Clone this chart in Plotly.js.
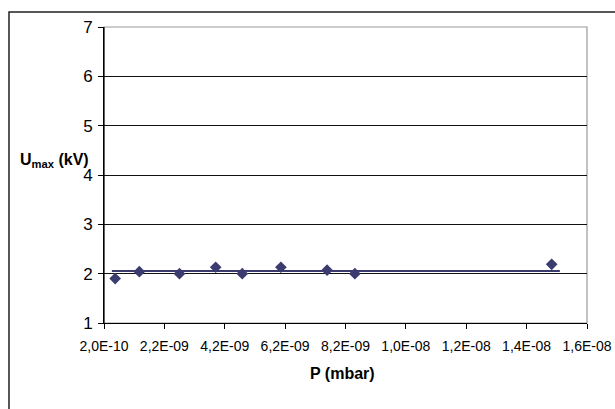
<!DOCTYPE html>
<html>
<head>
<meta charset="utf-8">
<script src="https://cdn.plot.ly/plotly-3.0.1.min.js"></script>
<style>html,body{margin:0;padding:0;background:#fff;}#chart{width:615px;height:409px;}</style>
</head>
<body>
<div id="chart"></div>
<script>
// Data
const pressure = [5.7e-10, 1.37e-9, 2.7e-9, 3.9e-9, 4.78e-9, 6.06e-9, 7.59e-9, 8.51e-9, 1.503e-8];
const umax = [1.90, 2.04, 2.00, 2.13, 2.00, 2.13, 2.07, 2.00, 2.19];
const trendX = [4.6e-10, 1.53e-8];
const trendY = [2.055, 2.055];
const xTickVals = [2e-10, 2.2e-9, 4.2e-9, 6.2e-9, 8.2e-9, 1.02e-8, 1.22e-8, 1.42e-8, 1.62e-8];
const xTickText = ["2,0E-10", "2,2E-09", "4,2E-09", "6,2E-09", "8,2E-09", "1,0E-08", "1,2E-08", "1,4E-08", "1,6E-08"];
const yTickVals = [1, 2, 3, 4, 5, 6, 7];

const col = '#3b3b70';
const font = 'Liberation Sans, Arial, sans-serif';

const traces = [
  {x: trendX, y: trendY, type: 'scatter', mode: 'lines', line: {color: col, width: 2}, hoverinfo: 'skip'},
  {x: pressure, y: umax, type: 'scatter', mode: 'markers',
   marker: {symbol: 'diamond', size: 9, color: col, line: {width: 0}}}
];

const layout = {
  width: 615, height: 409,
  margin: {l: 104, r: 28, t: 27, b: 86, pad: 0},
  paper_bgcolor: '#fff', plot_bgcolor: '#fff',
  showlegend: false,
  font: {family: font, size: 14, color: '#000'},
  xaxis: {
    range: [2e-10, 1.62e-8], tickmode: 'array', tickvals: xTickVals, ticktext: xTickText,
    showgrid: false, zeroline: false, showline: true, linecolor: '#000', linewidth: 1,
    ticks: 'outside', ticklen: 5, tickcolor: '#000', tickwidth: 1,
    ticklabelstandoff: 5,
    tickfont: {family: font, size: 14, color: '#000'}
  },
  yaxis: {
    range: [1, 7], tickmode: 'array', tickvals: yTickVals,
    showgrid: true, gridcolor: '#111', gridwidth: 1, zeroline: false,
    showline: true, linecolor: '#000', linewidth: 1,
    ticks: 'outside', ticklen: 5, tickcolor: '#000', tickwidth: 1,
    ticklabelstandoff: 2,
    tickfont: {family: font, size: 17, color: '#000'}
  },
  shapes: [
    {type: 'rect', xref: 'paper', yref: 'paper', x0: 0, x1: 1, y0: 0, y1: 1,
     line: {color: '#999', width: 1.2}, layer: 'below'},
    {type: 'line', xref: 'paper', yref: 'paper', x0: 0, x1: 0, y0: 0, y1: 1,
     line: {color: '#000', width: 1}},
    {type: 'rect', xref: 'paper', yref: 'paper', x0: -0.1967, x1: 1.08, y0: -0.33, y1: 1.0507,
     line: {color: '#222', width: 1.5}, fillcolor: 'rgba(0,0,0,0)', layer: 'below'}
  ],
  annotations: [
    {text: '<b>P (mbar)</b>', xref: 'paper', yref: 'paper', x: (342 - 104) / 483, y: -(373 - 323) / 296,
     xanchor: 'center', yanchor: 'middle', showarrow: false, font: {family: font, size: 16, color: '#000'}},
    {text: '<b>U<sub>max</sub> (kV)</b>', xref: 'paper', yref: 'paper', x: (18 - 104) / 483, y: (323 - 160) / 296,
     xanchor: 'left', yanchor: 'middle', showarrow: false, font: {family: font, size: 16, color: '#000'}}
  ]
};

Plotly.newPlot('chart', traces, layout, {staticPlot: true, displayModeBar: false});
</script>
</body>
</html>
